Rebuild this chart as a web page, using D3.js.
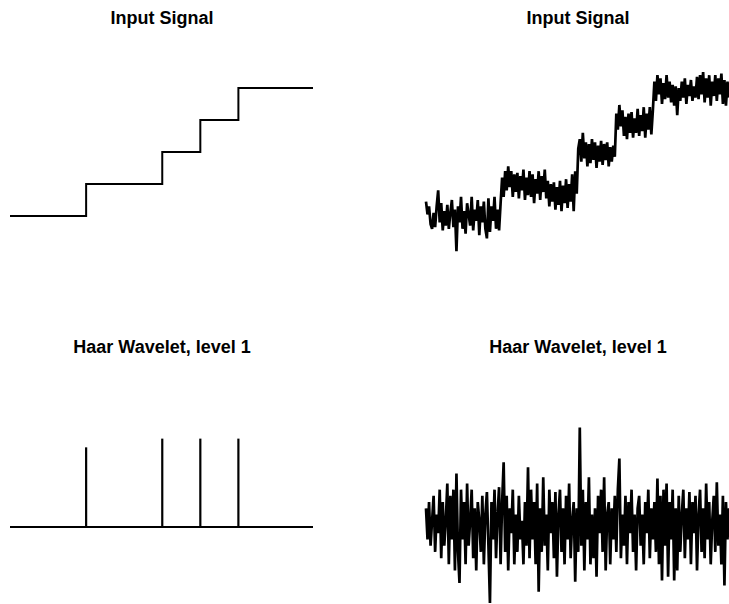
<!DOCTYPE html>
<html>
<head>
<meta charset="utf-8">
<script src="https://cdn.jsdelivr.net/npm/d3@7"></script>
<style>
  html, body { margin: 0; padding: 0; background: #fff; }
  svg { display: block; }
  .title { font-family: "Liberation Sans", Arial, Helvetica, sans-serif; font-weight: bold; font-size: 18px; fill: #000; }
</style>
</head>
<body>
<svg id="chart" width="729" height="604"></svg>
<script>
// Clean step signal: sample index where each level begins, and its level
const stepStarts = [0, 50, 100, 125, 150];
const stepLevels = [0, 1, 2, 3, 4];
const signalLength = 200;

// Level-1 Haar detail coefficients of the clean signal (non-zero only at the jumps)
const spikeIndex = [50, 100, 125, 150];
const spikeValue = [0.64, 0.71, 0.71, 0.71];

// Noisy version of the step signal
const noisySignal = [
  0.45, 0.05, 0.3, -0.25, -0.4, 0.1, -0.35, 0.3, 0.8, -0.2,
  0.4, -0.45, 0.15, -0.3, 0.35, -0.4, 0.1, 0.5, -0.35, 0.2,
  -1.1, 0.3, -0.2, 0.6, -0.4, 0.15, -0.55, 0.4, 0.05, -0.3,
  0.6, -0.45, 0.2, -0.15, 0.5, -0.6, 0.3, -0.2, 0.45, -0.4,
  -0.7, 0.55, -0.5, 0.3, -0.15, 0.6, -0.4, 0.2, -0.45, 0.4,
  1.2, 0.6, 1.4, 0.8, 1.55, 0.9, 1.4, 0.6, 1.3, 0.75,
  1.35, 0.55, 1.25, 0.8, 1.45, 0.5, 1.2, 0.65, 1.4, 0.6,
  1.3, 0.4, 1.15, 0.7, 1.4, 0.5, 1.25, 0.75, 1.45, 0.55,
  1.1, 0.3, 1.0, 0.45, 1.05, 0.2, 0.9, 0.35, 1.1, 0.15,
  0.95, 0.4, 1.15, 0.25, 1.0, 0.45, 1.3, 0.15, 1.4, 0.7,
  2.1, 2.4, 1.7, 2.6, 1.8, 2.3, 1.55, 2.25, 1.65, 2.4,
  1.75, 2.3, 1.5, 2.2, 1.7, 2.35, 1.6, 2.25, 1.75, 2.3,
  1.55, 2.15, 1.7, 2.2, 1.85, 3.2, 2.7, 3.47, 2.8, 3.3,
  2.5, 3.1, 2.4, 3.2, 2.6, 3.25, 2.45, 3.05, 2.6, 3.35,
  2.5, 3.15, 2.65, 3.4, 2.45, 3.2, 2.7, 3.4, 2.55, 3.3,
  4.2, 3.6, 4.4, 3.8, 4.3, 3.5, 4.15, 3.65, 4.4, 3.7,
  4.2, 3.55, 4.1, 3.45, 4.05, 3.15, 4.0, 3.6, 4.2, 3.7,
  4.3, 3.5, 4.1, 3.75, 4.25, 3.6, 4.05, 3.7, 4.35, 3.65,
  4.4, 3.8, 4.5, 3.55, 4.3, 3.7, 4.4, 3.45, 4.2, 3.75,
  4.4, 3.6, 4.3, 3.8, 4.45, 3.5, 4.25, 3.45, 4.2, 3.7
];

// Level-1 Haar detail coefficients of the noisy signal
const noisyDetail = [
  0.15, -0.1, 0.2, -0.15, 0.05, 0.25, -0.2, 0.1, -0.05, 0.3,
  -0.25, 0.2, -0.15, 0.05, 0.35, -0.3, 0.25, -0.1, 0.3, -0.35,
  0.43, -0.2, -0.45, 0.3, -0.1, 0.2, -0.3, 0.35, -0.15, 0.05,
  0.3, -0.25, 0.15, -0.35, 0.2, 0.05, -0.2, 0.25, -0.3, 0.1,
  0.28, -0.15, -0.61, 0.2, -0.1, 0.3, -0.25, 0.1, 0.32, -0.3,
  0.2, 0.52, -0.2, 0.25, -0.35, 0.15, -0.05, 0.3, -0.3, 0.1,
  -0.2, 0.25, -0.1, 0.05, -0.3, 0.2, -0.15, 0.48, -0.25, 0.3,
  -0.1, 0.2, -0.3, 0.35, -0.52, 0.15, -0.2, 0.4, -0.15, 0.1,
  -0.35, 0.3, -0.05, 0.2, -0.25, 0.28, -0.4, 0.1, 0.3, -0.2,
  0.15, -0.3, 0.25, -0.1, 0.35, -0.25, 0.05, 0.2, -0.44, 0.15,
  -0.2, 0.8, -0.15, 0.3, -0.35, 0.2, -0.1, 0.4, -0.3, 0.1,
  -0.25, 0.15, -0.4, 0.25, -0.05, 0.3, -0.2, 0.4, -0.35, 0.1,
  0.2, -0.3, 0.15, -0.1, 0.25, -0.2, 0.3, 0.55, -0.25, 0.1,
  -0.15, 0.25, -0.3, 0.2, -0.05, 0.3, -0.2, 0.1, -0.35, 0.15,
  0.25, -0.15, 0.1, -0.3, 0.2, -0.05, 0.3, -0.25, 0.15, -0.1,
  0.2, -0.2, 0.39, -0.3, 0.25, -0.43, 0.3, -0.15, 0.35, -0.4,
  0.2, -0.1, 0.3, -0.43, 0.15, -0.35, 0.25, -0.2, 0.1, 0.3,
  -0.25, 0.15, -0.1, 0.28, -0.3, 0.2, -0.05, 0.25, -0.35, 0.1,
  0.3, -0.2, 0.15, -0.25, 0.35, -0.1, 0.2, -0.3, 0.05, 0.25,
  -0.2, 0.36, -0.15, 0.1, -0.3, 0.25, -0.47, 0.2, -0.1, 0.15
];

const titles = ["Input Signal", "Input Signal", "Haar Wavelet, level 1", "Haar Wavelet, level 1"];

const svg = d3.select("#chart");
svg.append("rect").attr("width", 729).attr("height", 604).attr("fill", "#fff");

// Scales: left and right columns share the same vertical scales
const xLeft = d3.scaleLinear().domain([0, signalLength - 1]).range([10, 313]);
const xRight = d3.scaleLinear().domain([0, signalLength - 1]).range([426, 729]);
const ySig = d3.scaleLinear().domain([0, 4]).range([216, 88]);
const yWav = d3.scaleLinear().domain([0, 0.707]).range([527, 439]);

// Titles
const titlePos = [
  { x: 162, y: 24 }, { x: 578, y: 24 },
  { x: 162, y: 353 }, { x: 578, y: 353 }
];
svg.selectAll("text.title").data(titles).join("text")
  .attr("class", "title")
  .attr("text-anchor", "middle")
  .attr("x", (d, i) => titlePos[i].x)
  .attr("y", (d, i) => titlePos[i].y)
  .text(d => d);

// Top left: clean step signal
const stepPts = stepStarts.map((s, i) => [s, stepLevels[i]]);
stepPts.push([signalLength - 1, stepLevels[stepLevels.length - 1]]);
svg.append("path")
  .attr("d", d3.line().x(d => xLeft(d[0])).y(d => ySig(d[1])).curve(d3.curveStepAfter)(stepPts))
  .attr("fill", "none").attr("stroke", "#000").attr("stroke-width", 2);

// Top right: noisy signal
svg.append("path")
  .attr("d", d3.line().x((d, i) => xRight(i)).y(d => ySig(d))(noisySignal))
  .attr("fill", "none").attr("stroke", "#000").attr("stroke-width", 2.7)
  .attr("stroke-linejoin", "bevel");

// Bottom left: baseline with a spike at each jump
const g = svg.append("g");
g.append("line")
  .attr("x1", xLeft(0)).attr("x2", xLeft(signalLength - 1))
  .attr("y1", yWav(0)).attr("y2", yWav(0))
  .attr("stroke", "#000").attr("stroke-width", 2);
g.selectAll("line.spike").data(spikeIndex).join("line")
  .attr("class", "spike")
  .attr("x1", d => xLeft(d)).attr("x2", d => xLeft(d))
  .attr("y1", yWav(0)).attr("y2", (d, i) => yWav(spikeValue[i]))
  .attr("stroke", "#000").attr("stroke-width", 2.2);

// Bottom right: noisy detail coefficients
svg.append("path")
  .attr("d", d3.line().x((d, i) => xRight(i)).y(d => yWav(d))(noisyDetail))
  .attr("fill", "none").attr("stroke", "#000").attr("stroke-width", 2.7)
  .attr("stroke-linejoin", "bevel");
</script>
</body>
</html>
